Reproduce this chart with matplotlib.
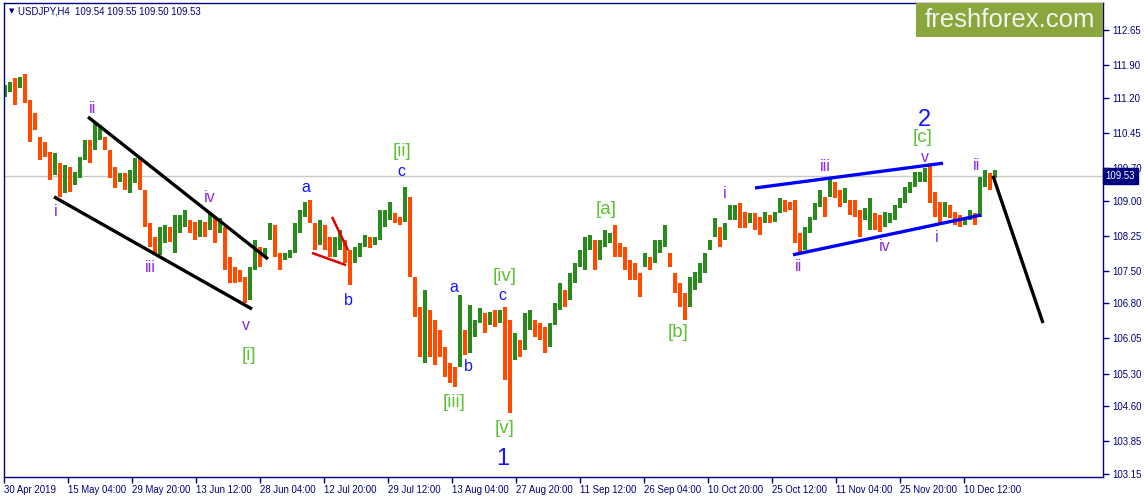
import numpy as np
import matplotlib.pyplot as plt
import matplotlib.transforms as mtransforms
from matplotlib.patches import Rectangle

# USDJPY H4, one entry every 5 bars (high / low of the block)
highs = [111.47, 111.54, 111.62, 111.64, 111.71, 111.15, 110.87, 110.36, 110.25, 110.04,
         110.02, 109.80, 109.76, 109.72, 109.61, 109.93, 110.30, 110.30, 110.68, 110.62,
         110.36, 110.08, 109.72, 109.59, 109.59, 109.66, 109.91, 109.93, 109.23, 108.52,
         108.22, 108.44, 108.48, 108.44, 108.69, 108.69, 108.80, 108.59, 108.54, 108.59,
         108.54, 108.76, 108.65, 108.63, 108.44, 107.79, 107.58, 107.52, 107.37, 107.58,
         108.16, 108.01, 107.99, 108.52, 108.48, 107.88, 107.88, 107.94, 108.52, 108.80,
         108.97, 109.01, 108.52, 108.59, 108.48, 108.22, 108.22, 108.37, 108.16, 107.94,
         108.01, 108.09, 108.26, 108.22, 108.22, 108.80, 108.80, 108.97, 108.74, 108.65,
         109.29, 109.08, 107.37, 106.72, 107.09, 106.66, 106.45, 106.23, 105.87, 105.52,
         105.44, 106.98, 106.23, 106.77, 106.45, 106.70, 106.60, 106.62, 106.66, 106.66,
         106.72, 106.45, 106.17, 106.02, 106.60, 106.66, 106.45, 106.38, 106.30, 106.38,
         106.81, 107.24, 107.09, 107.45, 107.67, 107.94, 108.22, 108.26, 108.16, 108.16,
         108.37, 108.31, 108.48, 108.09, 108.01, 107.73, 107.67, 107.45, 107.88, 107.79,
         108.16, 108.16, 108.48, 107.88, 107.45, 107.24, 107.02, 107.37, 107.47, 107.67,
         107.88, 108.16, 108.63, 108.44, 108.52, 108.90, 108.90, 108.95, 108.76, 108.74,
         108.74, 108.65, 108.76, 108.69, 108.76, 109.06, 109.01, 108.97, 109.01, 108.31,
         108.44, 108.65, 108.95, 109.23, 109.08, 109.48, 109.40, 109.23, 109.27, 109.01,
         109.01, 108.80, 108.84, 109.06, 108.74, 108.69, 108.76, 108.74, 108.90, 109.06,
         109.29, 109.40, 109.61, 109.61, 109.70, 109.76, 109.18, 108.97, 108.97, 108.90,
         108.76, 108.69, 108.65, 108.80, 108.74, 109.50, 109.66, 109.59, 109.66]
lows = [111.22, 111.32, 111.05, 111.41, 111.09, 110.25, 110.51, 109.87, 109.93, 109.44,
        109.55, 109.08, 109.16, 109.18, 109.33, 109.48, 109.87, 109.80, 110.08, 110.30,
        110.08, 109.48, 109.27, 109.40, 109.23, 109.16, 109.38, 109.23, 108.44, 108.01,
        107.84, 107.84, 108.09, 108.11, 107.88, 108.31, 108.44, 108.31, 108.16, 108.22,
        108.22, 108.37, 108.09, 108.31, 107.52, 107.24, 107.24, 107.26, 106.81, 106.87,
        107.52, 107.58, 107.77, 108.16, 107.79, 107.52, 107.73, 107.77, 107.88, 108.31,
        108.65, 108.52, 107.94, 108.05, 107.94, 107.79, 107.79, 107.94, 107.67, 107.19,
        107.67, 107.79, 108.01, 107.99, 108.05, 108.16, 108.44, 108.59, 108.52, 108.48,
        108.54, 107.37, 106.51, 105.65, 105.52, 105.65, 105.48, 105.65, 105.23, 105.10,
        105.01, 105.44, 105.70, 105.74, 106.08, 106.38, 106.17, 106.34, 106.30, 106.38,
        105.16, 104.46, 105.59, 105.65, 105.80, 106.23, 106.08, 106.02, 105.74, 105.87,
        106.34, 106.66, 106.72, 106.87, 107.24, 107.58, 107.52, 107.94, 107.52, 107.73,
        108.01, 108.09, 107.79, 107.79, 107.52, 107.30, 107.30, 106.94, 107.58, 107.52,
        107.67, 107.88, 108.01, 107.58, 107.02, 106.72, 106.45, 106.72, 107.09, 107.24,
        107.45, 107.94, 108.22, 108.01, 108.16, 108.59, 108.59, 108.41, 108.41, 108.52,
        108.37, 108.26, 108.52, 108.52, 108.54, 108.74, 108.76, 108.80, 108.09, 107.90,
        107.94, 108.31, 108.59, 108.86, 108.65, 109.08, 109.06, 108.86, 108.95, 108.69,
        108.65, 108.22, 108.59, 108.37, 108.37, 108.33, 108.44, 108.52, 108.59, 108.84,
        108.95, 109.16, 109.29, 109.40, 109.40, 108.95, 108.65, 108.52, 108.65, 108.63,
        108.48, 108.44, 108.48, 108.59, 108.48, 108.65, 109.29, 109.23, 109.48]
last_price = 109.53
header = "USDJPY,H4  109.54 109.55 109.50 109.53"

date_labels = ["30 Apr 2019", "15 May 04:00", "29 May 20:00", "13 Jun 12:00", "28 Jun 04:00",
               "12 Jul 20:00", "29 Jul 12:00", "13 Aug 04:00", "27 Aug 20:00", "11 Sep 12:00",
               "26 Sep 04:00", "10 Oct 20:00", "25 Oct 12:00", "11 Nov 04:00", "25 Nov 20:00",
               "10 Dec 12:00"]
price_labels = ["103.15", "103.85", "104.60", "105.30", "106.05", "106.80", "107.50",
                "108.25", "109.00", "109.70", "110.45", "111.20", "111.90", "112.65"]

# wave marks: (text, bar, price, kind)
waves = [("i", 56, 108.76, "minor"), ("ii", 92, 110.98, "minor"), ("iii", 150, 107.56, "minor"),
         ("iv", 210, 109.06, "minor"), ("v", 246, 106.32, "minor"), ("[i]", 249, 105.68, "inter"),
         ("a", 306, 109.29, "abc"), ("b", 348, 106.87, "abc"), ("[ii]", 402, 110.06, "inter"),
         ("c", 401, 109.63, "abc"), ("a", 454, 107.13, "abc"), ("b", 468, 105.44, "abc"),
         ("[iii]", 454, 104.67, "inter"), ("[iv]", 505, 107.37, "inter"), ("c", 502, 106.98, "abc"),
         ("[v]", 505, 104.13, "inter"), ("1", 503, 103.47, "major"), ("[a]", 606, 108.80, "inter"),
         ("[b]", 678, 106.17, "inter"), ("i", 725, 109.16, "minor"), ("iii", 825, 109.74, "minor"),
         ("ii", 799, 107.60, "minor"), ("iv", 885, 108.01, "minor"), ("v", 925, 109.93, "minor"),
         ("[c]", 923, 110.34, "inter"), ("2", 924, 110.72, "major"), ("i", 937, 108.22, "minor"),
         ("ii", 977, 109.76, "minor")]

# trend lines: ((bar0, price0), (bar1, price1), color)
trend_lines = [((88, 110.79), (268, 107.75), "black"),
               ((54, 109.08), (252, 106.68), "black"),
               ((332, 108.65), (348, 107.94), "#e00000"),
               ((312, 107.88), (346, 107.62), "#e00000"),
               ((755, 109.27), (943, 109.80), "#0000ff"),
               ((793, 107.84), (981, 108.69), "#0000ff"),
               ((993, 109.53), (1043, 106.38), "black")]

navy = "#000080"
plt.rcParams['font.family'] = ['Liberation Sans', 'DejaVu Sans']

fig = plt.figure(figsize=(11.44, 4.98), dpi=100)
ax = fig.add_axes([3.5 / 1144, 21 / 498, 1099 / 1144, 474.5 / 498])

highs = np.array(highs)
lows = np.array(lows)
x = np.arange(len(highs)) * 5 + 4.5
mid = (highs + lows) / 2
up = np.r_[True, mid[1:] >= mid[:-1]]
colors = np.where(up, "#2a8a1e", "#ff4a00")

ax.axhline(last_price, color="#c8c8c8", lw=1, zorder=1)
ax.vlines(x, lows, highs, colors=colors, lw=2.9, zorder=2)

for (x0, y0), (x1, y1), c in trend_lines:
    lw = 2.4 if c != "#e00000" else 1.8
    ax.plot([x0, x1], [y0, y1], color=c, lw=lw, zorder=3, solid_capstyle="butt")

styles = {"minor": ("blueviolet", 11.5), "abc": ("#1414ff", 11.5),
          "inter": ("#5cc234", 13.5), "major": ("#1414ff", 17)}
for txt, bx, py, kind in waves:
    c, fs = styles[kind]
    ax.text(bx, py, txt, color=c, fontsize=fs, ha="center", va="center", zorder=4)

ax.set_xlim(3.5, 1102.5)
ax.set_ylim(103.086, 113.2385)

ax.set_xticks([3.5 + 64 * i for i in range(len(date_labels))])
ax.set_xticklabels(date_labels)
for lbl in ax.get_xticklabels():
    lbl.set_horizontalalignment("left")
ax.yaxis.tick_right()
ax.set_yticks([float(v) for v in price_labels])
ax.set_yticklabels(price_labels)
ax.tick_params(axis="both", direction="out", length=4, color=navy, labelcolor=navy,
               labelsize=6.9, width=1)
ax.tick_params(axis="x", pad=2)
ax.tick_params(axis="y", pad=3)
for s in ax.spines.values():
    s.set_color(navy)
    s.set_linewidth(1)

# current price tag
trans = mtransforms.blended_transform_factory(ax.transAxes, ax.transData)
ax.text(1.003, last_price, f"{last_price:.2f}", transform=trans, ha="left", va="center",
        color="white", fontsize=6.9, clip_on=False,
        bbox=dict(boxstyle="square,pad=0.3", fc=navy, ec=navy))

# header
fig.text(9 / 1144, 1 - 11 / 498, "\u25bc", color=navy, fontsize=5, va="center",
         family="DejaVu Sans")
fig.text(18 / 1144, 1 - 11 / 498, header, color=navy, fontsize=6.9, va="center")

# watermark
fig.patches.append(Rectangle((916 / 1144, 1 - 37 / 498), 187 / 1144, 34 / 498,
                             transform=fig.transFigure, fc="#8ba63c", ec="none", zorder=5))
fig.text(1009.5 / 1144, 1 - 20 / 498, "freshforex.com", color="#f4f4f0", fontsize=18.5,
         ha="center", va="center", zorder=6)

fig.savefig("out.png", dpi=100)
